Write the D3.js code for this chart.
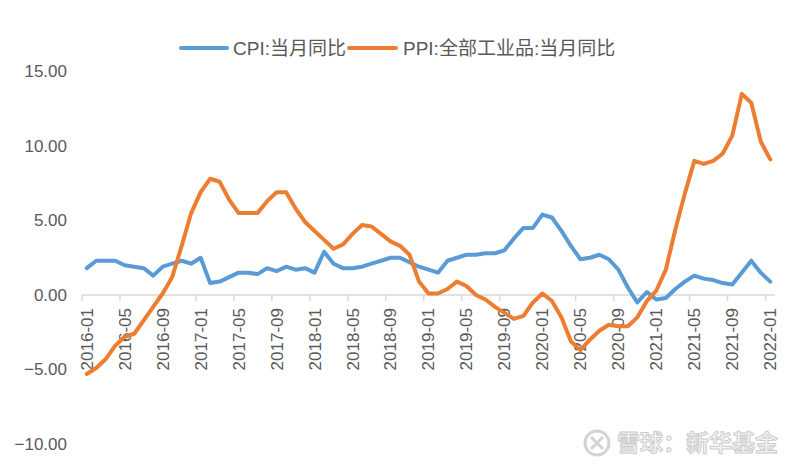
<!DOCTYPE html>
<html><head><meta charset="utf-8">
<script src="https://cdn.jsdelivr.net/npm/d3@7"></script>
<style>body{margin:0;background:#fff}</style>
</head><body>
<svg id="c" width="800" height="469"></svg>
<script>
const months = [];
for (let y = 2016; y <= 2022; y++) for (let m = 1; m <= 12; m++) { if (y === 2022 && m > 1) break; months.push(y + "-" + String(m).padStart(2, "0")); }
const cpi = [1.8,2.3,2.3,2.3,2.0,1.9,1.8,1.3,1.9,2.1,2.3,2.1,
  2.5,0.8,0.9,1.2,1.5,1.5,1.4,1.8,1.6,1.9,1.7,1.8,
  1.5,2.9,2.1,1.8,1.8,1.9,2.1,2.3,2.5,2.5,2.2,1.9,
  1.7,1.5,2.3,2.5,2.7,2.7,2.8,2.8,3.0,3.8,4.5,4.5,
  5.4,5.2,4.3,3.3,2.4,2.5,2.7,2.4,1.7,0.5,-0.5,0.2,
  -0.3,-0.2,0.4,0.9,1.3,1.1,1.0,0.8,0.7,1.5,2.3,1.5,
  0.9];
const ppi = [-5.3,-4.9,-4.3,-3.4,-2.8,-2.6,-1.7,-0.8,0.1,1.2,3.3,5.5,
  6.9,7.8,7.6,6.4,5.5,5.5,5.5,6.3,6.9,6.9,5.8,4.9,
  4.3,3.7,3.1,3.4,4.1,4.7,4.6,4.1,3.6,3.3,2.7,0.9,
  0.1,0.1,0.4,0.9,0.6,0.0,-0.3,-0.8,-1.2,-1.6,-1.4,-0.5,
  0.1,-0.4,-1.5,-3.1,-3.7,-3.0,-2.4,-2.0,-2.1,-2.1,-1.5,-0.4,
  0.3,1.7,4.4,6.8,9.0,8.8,9.0,9.5,10.7,13.5,12.9,10.3,
  9.1];
const yTicks = [15, 10, 5, 0, -5, -10];
const seriesNames = ["CPI:当月同比", "PPI:全部工业品:当月同比"];
const colors = ["#5B9BD5", "#ED7D31"];

const font = "'Liberation Sans','Noto Sans CJK SC',sans-serif";
const svg = d3.select("#c");
const x = d3.scaleBand().domain(months).range([82, 775]);
const y = d3.scaleLinear().domain([-10, 15]).range([444, 71.5]);

// y labels
svg.append("g").selectAll("text").data(yTicks).join("text")
  .attr("x", 67).attr("y", d => y(d)).attr("dy", "0.35em")
  .attr("text-anchor", "end").attr("font-family", font).attr("font-size", 17)
  .attr("fill", "#595959").text(d => d3.format(".2f")(d));

// x axis
const xg = svg.append("g").attr("transform", `translate(0,${y(0)})`);
xg.append("line").attr("x1", 82).attr("x2", 775).attr("stroke", "#d9d9d9").attr("stroke-width", 1.5);
const labeled = months.filter((d, i) => i % 4 === 0);
xg.selectAll("line.t").data(labeled).join("line").attr("class", "t")
  .attr("x1", d => x(d)).attr("x2", d => x(d)).attr("y1", 0).attr("y2", 6)
  .attr("stroke", "#d9d9d9").attr("stroke-width", 1.5);
xg.selectAll("text").data(labeled).join("text")
  .attr("transform", d => `translate(${x(d) + x.bandwidth() / 2},13) rotate(-90)`)
  .attr("text-anchor", "end").attr("dy", "0.35em")
  .attr("font-family", font).attr("font-size", 17).attr("fill", "#595959").text(d => d);

// lines
const line = d3.line().x((d, i) => x(months[i]) + x.bandwidth() / 2).y(d => y(d));
[cpi, ppi].forEach((s, k) => {
  svg.append("path").datum(s).attr("d", line).attr("fill", "none")
    .attr("stroke", colors[k]).attr("stroke-width", 4).attr("stroke-linejoin", "round").attr("stroke-linecap", "round");
});

// legend
const lg = svg.append("g");
const legItems = [{x1: 181, x2: 227, tx: 233}, {x1: 349, x2: 396, tx: 403}];
legItems.forEach((p, k) => {
  lg.append("line").attr("x1", p.x1).attr("x2", p.x2).attr("y1", 48).attr("y2", 48)
    .attr("stroke", colors[k]).attr("stroke-width", 4).attr("stroke-linecap", "round");
  lg.append("text").attr("x", p.tx).attr("y", 48).attr("dy", "0.35em")
    .attr("font-family", font).attr("font-size", 19).attr("fill", "#595959").text(seriesNames[k]);
});

// watermark
const wm = svg.append("g").attr("opacity", 0.9);
wm.append("circle").attr("cx", 597).attr("cy", 443).attr("r", 12).attr("fill", "none").attr("stroke", "#cfcfcf").attr("stroke-width", 3);
wm.append("path").attr("d", "M591,437 L603,449 M603,437 L591,449").attr("stroke", "#cfcfcf").attr("stroke-width", 3);
wm.append("text").attr("x", 617).attr("y", 443).attr("dy", "0.36em")
  .attr("font-family", "'Noto Sans CJK SC',sans-serif").attr("font-size", 23).attr("font-weight", "bold")
  .attr("fill", "#f2f2f2").attr("stroke", "#c8c8c8").attr("stroke-width", 1).text("雪球：新华基金");
</script>
</body></html>
